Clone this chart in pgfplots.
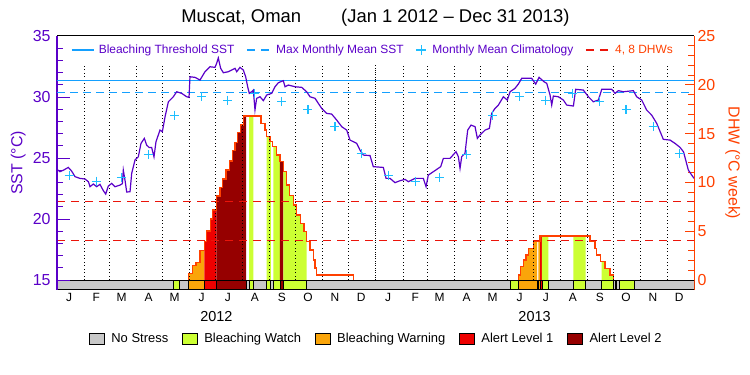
\documentclass[border=0pt]{standalone}
\usepackage{fontspec}
\setmainfont{Liberation Sans}
\usepackage{pgfplots}
\usepackage{pgfplotstable}
\pgfplotsset{compat=1.18}
\definecolor{sstc}{RGB}{90,0,200}
\definecolor{thrc}{RGB}{20,160,255}
\definecolor{climc}{RGB}{30,190,255}
\definecolor{dhwc}{RGB}{255,64,0}
\definecolor{dhwd}{RGB}{235,20,10}
\definecolor{nsc}{RGB}{200,200,200}
\definecolor{wtc}{RGB}{204,255,51}
\definecolor{wnc}{RGB}{250,165,10}
\definecolor{aoc}{RGB}{238,0,0}
\definecolor{atc}{RGB}{150,0,0}
\newcommand{\fs}[1]{\fontsize{#1}{#1}\selectfont}
\newcommand{\seg}[3]{\addplot[forget plot, fill=#3, draw=black, line width=0.8bp] coordinates {(#1,-1.02) (#2,-1.02) (#2,0) (#1,0)} -- cycle;}
\newcommand{\dfill}[4]{\begin{scope}\clip (axis cs:#2,-1) rectangle (axis cs:#3,26);
  \addplot[forget plot, const plot, fill=#4, draw=none] table {#1} -- cycle;\end{scope}}
\newcommand{\lbox}[1]{\addlegendimage{legend image code/.code={\draw[fill=#1, draw=black, line width=0.8bp] (0bp,-5.5bp) rectangle (15bp,5.5bp); \path (20bp,0bp);}}}

\pgfplotstableread{
d sst
0 24.07
3.4 23.88
7.3 24.0
13 24.23
16.8 23.93
20.7 23.47
26.4 23.33
32.1 23.28
36 23.06
37.9 22.65
41.7 22.87
45.5 22.65
49.3 22.84
53.2 22.32
55.9 22.05
58.9 22.7
62.7 22.92
66.6 22.65
72.3 22.78
75 22.9
76.1 24.01
78 23.2
80 22.21
83.8 22.24
85.7 23.74
89.5 24.83
93.3 25.1
96.4 26.2
100.2 26.61
102.9 26.06
105.6 25.87
108.6 25.87
111.3 25.1
113.6 26.34
118.2 27.29
120.9 27.16
124 28.38
127.8 29.61
133.5 30.02
137.3 30.43
143.1 30.3
148.8 30.02
151.5 29.97
152.6 31.66
158.4 31.61
164.1 31.39
169.8 32.07
175.6 32.48
181.3 32.43
183.2 32.76
185.1 33.2
187.8 32.35
190.9 31.99
196.6 32.07
200.5 32.21
204.3 32.35
206.2 32.07
210 32.43
213.8 32.21
216.5 31.66
218.8 30.84
220.7 30.3
223.4 30.43
225.3 30.57
227.2 28.93
229.1 29.89
233 30.02
236.8 29.7
240.6 30.16
246.4 30.3
250.2 30.84
254 31.17
259.7 31.34
261.7 30.84
265.5 30.98
273.2 30.84
280.8 30.79
286.5 30.43
290.4 30.02
296.1 29.89
303.7 29.07
309.5 28.66
315.2 28.6
321 28.11
326.7 27.57
332.4 27.29
336.3 26.47
343.9 26.2
347.7 25.65
351.6 25.24
359.2 25.2
363 24.29
374.5 24.23
377.6 23.33
382.2 23.33
387.9 22.98
393.6 23.14
399.4 23.25
403.2 23.06
410.8 23.33
420.4 23.33
423.5 22.65
426.1 23.6
431.9 23.88
440.3 24.29
443.4 24.97
451.0 24.97
457.9 25.52
460.6 25.11
462.5 24.15
464.4 25.11
468.2 25.38
471.3 27.29
475.1 27.7
479.7 27.57
482.4 26.61
485.4 26.88
491.2 27.29
496.2 27.43
498.8 28.66
502.7 29.07
506.5 29.34
512.2 30.02
516.8 29.75
519.9 30.43
525.6 30.71
529.4 31.06
533.3 31.53
544.7 31.53
549.3 31.06
553.2 31.61
558.9 31.25
562 31.12
565.8 30.16
567.7 29.34
569.6 30.08
575.3 30.02
581.1 29.75
584.9 29.34
592.6 29.26
595.2 30.63
604 30.57
609.8 30.02
615.5 29.61
621.3 29.75
625.1 30.63
636.5 30.63
640.4 30.3
644.2 30.52
649.9 30.43
661.4 30.52
665.2 30.02
671 29.75
676.7 28.93
682.4 28.52
688.2 27.84
695.8 26.53
703.5 26.47
709.2 26.2
715 25.87
719 25.5
724.5 24.01
731 23.33
}\sstdata

\pgfplotstableread{
d clim
14 23.6
45 23.1
74 23.37
105 25.27
135 28.52
166 30.05
196 29.75
227 30.3
258 29.61
288 28.99
319 27.57
349 25.36
380 23.6
411 23.1
439 23.37
470 25.27
500 28.52
531 30.05
561 29.75
592 30.3
623 29.61
653 28.99
684 27.57
714 25.36
}\climdata

\pgfplotstableread{
d dhw
150.7 0
150.7 0.68
155.7 1.47
159.5 1.81
164.1 3.0
169.1 3.93
171.8 5.02
176.4 6.25
178.6 7.17
183.2 8.6
187.1 9.5
190.1 10.35
193.9 11.27
197.8 12.19
201.6 13.25
204.3 14.07
206.9 15.1
210.8 15.88
213.8 16.8
234.1 16.05
238.7 15.37
240.6 14.68
244.4 14.17
247.5 13.66
252.1 12.8
255.9 12.12
259.7 11.1
263.6 9.73
266.6 8.7
271.2 7.68
275 6.66
279.6 5.8
283.5 4.95
286.5 3.93
290.3 3.07
294.1 2.05
296 1.23
298 0.51
340 0
}\dhwA

\pgfplotstableread{
d dhw
529.4 0
529.4 0.51
532.1 1.37
535.1 2.05
538.2 2.56
540.9 3.25
546.6 3.93
554.3 4.51
611.7 3.93
617.4 3.25
619.3 2.56
623.9 1.88
628.9 1.2
634.6 0.51
638.4 0
}\dhwB

\begin{document}
\begin{tikzpicture}
% ---------------- DHW axis (right) ----------------
\begin{axis}[
  at={(57bp,85bp)}, anchor=south west,
  scale only axis, width=637bp, height=254bp,
  xmin=0, xmax=731, ymin=-1.02, ymax=25,
  hide x axis,
  axis y line*=right,
  y axis line style={dhwc, line width=1bp},
  ytick={0,5,10,15,20,25},
  minor y tick num=4,
  tick align=inside,
  major tick length=9bp, minor tick length=6bp,
  ytick style={dhwc, line width=1bp},
  yticklabel style={dhwc, font=\fs{16}},
  /pgf/number format/assume math mode=true,
  ylabel={DHW (°C week)},
  ylabel style={dhwc, font=\fs{16}, at={(axis description cs:1.061,0.5)}, anchor=center, rotate=180},
  legend columns=5,
  legend cell align=left,
  legend style={at={(axis description cs:0.501,-0.191)}, anchor=center, draw=none, fill=none, font=\fs{13},
    /tikz/every even column/.append style={column sep=11.5bp}},
]
% fills coloured by stress level
\dfill{\dhwA}{150.7}{169.1}{wnc}
\dfill{\dhwA}{169.1}{183}{aoc}
\dfill{\dhwA}{183}{216.9}{atc}
\dfill{\dhwA}{220.5}{225.3}{wtc}
\dfill{\dhwA}{240.6}{245.4}{wtc}
\dfill{\dhwA}{248.2}{255.9}{wtc}
\dfill{\dhwA}{255.9}{259.7}{atc}
\dfill{\dhwA}{259.7}{286.5}{wtc}
\dfill{\dhwB}{529.4}{551}{wnc}
\dfill{\dhwB}{552.5}{554.5}{wnc}
\dfill{\dhwB}{554.5}{556.5}{aoc}
\dfill{\dhwB}{556.5}{563.8}{wtc}
\dfill{\dhwB}{592.5}{606.7}{wtc}
\dfill{\dhwB}{625}{638.4}{wtc}
% DHW thresholds
\addplot[forget plot, dhwd, line width=1bp, dash pattern=on 8bp off 6bp] coordinates {(0,4) (731,4)};
\addplot[forget plot, dhwd, line width=1bp, dash pattern=on 8bp off 6bp] coordinates {(0,8) (731,8)};
% DHW curves
\addplot[forget plot, const plot, dhwc, line width=1.2bp] table {\dhwA};
\addplot[forget plot, const plot, dhwc, line width=1.2bp] table {\dhwB};
% status bar
\seg{0}{133.5}{nsc}
\seg{133.5}{140.4}{wtc}
\seg{140.4}{150.7}{nsc}
\seg{150.7}{169.1}{wnc}
\seg{169.1}{183}{aoc}
\seg{183}{216.9}{atc}
\seg{216.9}{220.5}{nsc}
\seg{220.5}{225.3}{wtc}
\seg{225.3}{240.6}{nsc}
\seg{240.6}{245.4}{wtc}
\seg{245.4}{248.2}{nsc}
\seg{248.2}{255.9}{wtc}
\seg{255.9}{259.7}{atc}
\seg{259.7}{286.5}{wtc}
\seg{286.5}{519.8}{nsc}
\seg{519.8}{529.4}{wtc}
\seg{529.4}{551}{wnc}
\seg{551}{552.5}{nsc}
\seg{552.5}{554.5}{wnc}
\seg{554.5}{556.5}{aoc}
\seg{556.5}{563.8}{wtc}
\seg{563.8}{592.5}{nsc}
\seg{592.5}{606.7}{wtc}
\seg{606.7}{625}{nsc}
\seg{625}{638.4}{wtc}
\seg{638.4}{640.4}{nsc}
\seg{640.4}{642.3}{wtc}
\seg{642.3}{645.3}{nsc}
\seg{645.3}{662.2}{wtc}
\seg{662.2}{731}{nsc}
% bottom legend
\lbox{nsc}
\addlegendentry{No Stress}
\lbox{wtc}
\addlegendentry{Bleaching Watch}
\lbox{wnc}
\addlegendentry{Bleaching Warning}
\lbox{aoc}
\addlegendentry{Alert Level 1}
\lbox{atc}
\addlegendentry{Alert Level 2}
\end{axis}

% ---------------- SST axis (left) ----------------
\begin{axis}[
  at={(57bp,85bp)}, anchor=south west,
  scale only axis, width=637bp, height=254bp,
  xmin=0, xmax=731, ymin=14.184, ymax=35,
  axis y line*=left,
  y axis line style={sstc, line width=1.2bp},
  x axis line style={black, line width=1bp},
  xtick={14,45,74,105,135,166,196,227,258,288,319,349,380,411,439,470,500,531,561,592,623,653,684,714},
  xticklabels={J,F,M,A,M,J,J,A,S,O,N,D,J,F,M,A,M,J,J,A,S,O,N,D},
  xtick style={draw=none},
  xticklabel style={font=\fs{12}},
  extra x ticks={183,548},
  extra x tick labels={2012,2013},
  extra x tick style={xticklabel style={yshift=-18bp, font=\fs{14.5}}, tick style={draw=none}},
  ytick={15,20,25,30,35},
  minor y tick num=4,
  tick align=inside,
  major tick length=13bp, minor tick length=6bp,
  ytick style={sstc, line width=1bp},
  yticklabel style={sstc, font=\fs{16}, xshift=-3bp},
  /pgf/number format/assume math mode=true,
  ylabel={SST (°C)},
  ylabel style={sstc, font=\fs{16}, at={(axis description cs:-0.061,0.5)}, anchor=center},
  title={Muscat, Oman\hspace{40bp}(Jan 1 2012 – Dec 31 2013)},
  title style={font=\fs{18.5}, at={(axis description cs:0.5,1)}, anchor=base, yshift=7.5bp},
  legend columns=4,
  legend cell align=left,
  legend style={at={(axis description cs:0.496,0.945)}, anchor=center, draw=none, fill=none, font=\fs{12},
    /tikz/every even column/.append style={column sep=10bp}},
]
\pgfplotsinvokeforeach{31,60,91,121,152,182,213,244,274,305,335,397,425,456,486,517,547,578,609,639,670,700}{
  \addplot[forget plot, black, line width=0.9bp, dash pattern=on 0.9bp off 2.6bp] coordinates {(#1,15) (#1,32.6)};
}
\addplot[forget plot, black, line width=0.9bp, dash pattern=on 0.9bp off 1.4bp] coordinates {(366,15) (366,32.6)};
\addplot[forget plot, thrc, line width=1.2bp] coordinates {(0,31.34) (731,31.34)};
\addplot[forget plot, thrc, line width=1.2bp, dash pattern=on 8bp off 5bp] coordinates {(0,30.34) (731,30.34)};
\addplot[forget plot, only marks, mark=+, climc, mark size=4.5bp, mark options={line width=1.1bp}] table {\climdata};
\addplot[forget plot, sstc, line width=1.2bp] table {\sstdata};
% top legend
\addlegendimage{legend image code/.code={\draw[thrc, line width=1.2bp] (0bp,0bp) -- (22bp,0bp); \path (25bp,0bp);}}
\addlegendentry{\textcolor{sstc}{Bleaching Threshold SST}}
\addlegendimage{legend image code/.code={\draw[thrc, line width=1.2bp, dash pattern=on 8bp off 6bp] (0bp,0bp) -- (24bp,0bp); \path (27bp,0bp);}}
\addlegendentry{\textcolor{sstc}{Max Monthly Mean SST}}
\addlegendimage{legend image code/.code={\draw[climc, line width=1.1bp] (6bp,0bp) -- (16bp,0bp) (11bp,-5bp) -- (11bp,5bp); \path (20bp,0bp);}}
\addlegendentry{\textcolor{sstc}{Monthly Mean Climatology}}
\addlegendimage{legend image code/.code={\draw[dhwd, line width=1.2bp, dash pattern=on 8bp off 6bp] (0bp,0bp) -- (24bp,0bp); \path (27bp,0bp);}}
\addlegendentry{\textcolor{dhwc}{4, 8 DHWs}}
\end{axis}
\pgfresetboundingbox
\useasboundingbox (0,0) rectangle (750bp,375bp);
\end{tikzpicture}
\end{document}
